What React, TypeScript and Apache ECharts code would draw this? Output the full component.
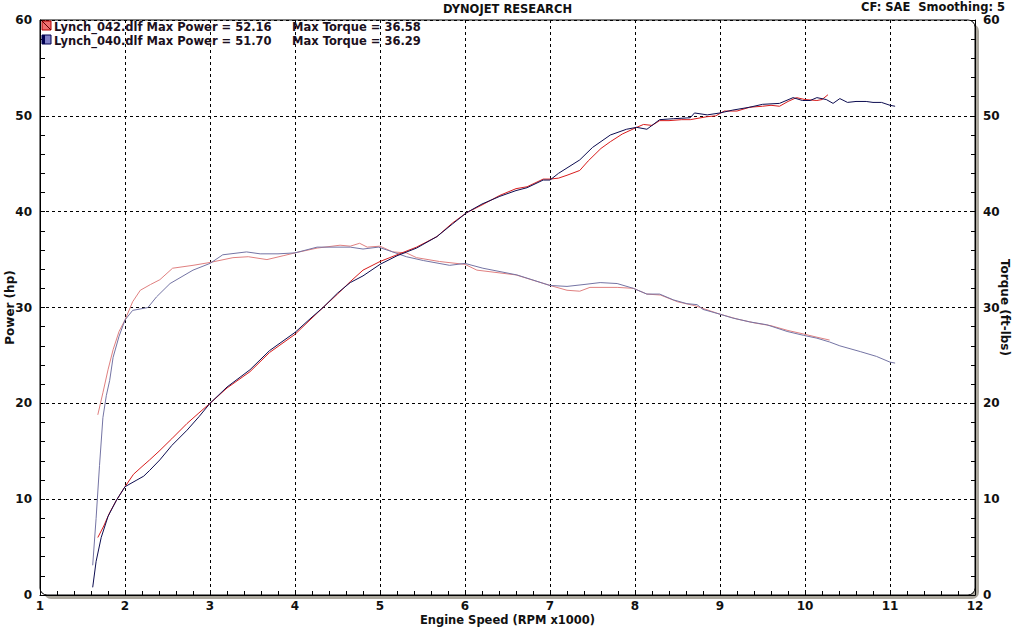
import React, { useEffect, useRef } from "react";
import * as echarts from "echarts";

// Run Lynch_042 (red)
const redPowerRpm = [1.68, 1.75, 1.82, 1.9, 2.0, 2.1, 2.2, 2.29, 2.4, 2.55, 2.73, 2.87, 3.0, 3.2, 3.47, 3.7, 4.0, 4.2, 4.33, 4.5, 4.65, 4.8, 5.0, 5.2, 5.43, 5.67, 5.85, 6.02, 6.2, 6.41, 6.6, 6.73, 6.92, 7.0, 7.1, 7.2, 7.35, 7.45, 7.6, 7.71, 7.85, 8.02, 8.1, 8.2, 8.29, 8.4, 8.55, 8.65, 8.84, 8.95, 9.05, 9.2, 9.35, 9.5, 9.6, 9.7, 9.8, 9.9, 10.0, 10.14, 10.2, 10.27];
const redPower = [6.0, 7.2, 8.6, 9.9, 11.3, 12.6, 13.4, 14.1, 15.0, 16.3, 17.9, 19.0, 20.0, 21.6, 23.3, 25.3, 27.2, 28.9, 30.0, 31.4, 32.7, 33.9, 34.8, 35.5, 36.3, 37.4, 38.8, 39.9, 40.7, 41.7, 42.4, 42.6, 43.4, 43.4, 43.5, 43.8, 44.3, 45.3, 46.6, 47.3, 48.1, 48.8, 49.1, 49.0, 49.5, 49.5, 49.6, 49.6, 49.9, 50.0, 50.5, 50.5, 50.9, 51.0, 51.1, 51.0, 51.5, 51.9, 51.7, 51.6, 51.7, 52.2];
const redTorqueRpm = [1.68, 1.74, 1.8, 1.86, 1.93, 2.0, 2.09, 2.18, 2.3, 2.41, 2.56, 2.8, 3.0, 3.27, 3.45, 3.67, 3.86, 4.0, 4.26, 4.53, 4.65, 4.76, 4.85, 5.0, 5.15, 5.31, 5.43, 5.7, 6.0, 6.14, 6.6, 7.0, 7.2, 7.35, 7.47, 7.79, 7.98, 8.14, 8.3, 8.5, 8.7, 8.8, 9.0, 9.2, 9.4, 9.6, 9.8, 10.0, 10.14, 10.29];
const redTorque = [18.8, 21.1, 23.5, 25.6, 27.5, 28.7, 30.6, 31.8, 32.4, 32.9, 34.1, 34.4, 34.7, 35.2, 35.3, 35.0, 35.4, 35.7, 36.2, 36.5, 36.4, 36.7, 36.3, 36.4, 35.8, 35.7, 35.2, 34.8, 34.5, 33.9, 33.4, 32.3, 31.8, 31.7, 32.1, 32.1, 32.0, 31.4, 31.3, 30.6, 30.2, 29.9, 29.3, 28.8, 28.4, 28.1, 27.6, 27.2, 26.9, 26.6];

// Run Lynch_040 (blue)
const bluePowerRpm = [1.62, 1.66, 1.72, 1.8, 1.9, 2.0, 2.14, 2.22, 2.29, 2.41, 2.55, 2.73, 2.87, 3.0, 3.2, 3.47, 3.7, 4.0, 4.2, 4.33, 4.5, 4.65, 4.8, 5.0, 5.2, 5.43, 5.67, 5.85, 6.02, 6.2, 6.41, 6.6, 6.73, 6.92, 7.0, 7.1, 7.35, 7.5, 7.71, 7.9, 8.02, 8.14, 8.29, 8.45, 8.65, 8.7, 8.85, 9.0, 9.15, 9.35, 9.5, 9.7, 9.86, 9.97, 10.06, 10.14, 10.25, 10.33, 10.41, 10.5, 10.6, 10.72, 10.8, 10.9, 11.0, 11.06];
const bluePower = [0.8, 3.5, 6.0, 8.2, 9.9, 11.3, 12.0, 12.4, 13.0, 14.1, 15.6, 17.2, 18.6, 20.0, 21.7, 23.5, 25.5, 27.4, 29.0, 30.0, 31.5, 32.6, 33.3, 34.5, 35.4, 36.2, 37.4, 38.7, 39.9, 40.8, 41.6, 42.2, 42.5, 43.3, 43.3, 44.0, 45.4, 46.7, 48.0, 48.6, 48.8, 48.6, 49.6, 49.7, 49.8, 50.3, 50.1, 50.3, 50.6, 50.9, 51.2, 51.3, 51.9, 51.6, 51.6, 51.9, 51.7, 51.3, 51.8, 51.4, 51.5, 51.5, 51.4, 51.4, 51.1, 51.0];
const blueTorqueRpm = [1.62, 1.66, 1.7, 1.74, 1.78, 1.82, 1.86, 1.93, 2.0, 2.09, 2.27, 2.37, 2.53, 2.8, 3.0, 3.15, 3.43, 3.59, 3.8, 4.0, 4.26, 4.65, 4.8, 4.98, 5.15, 5.31, 5.51, 5.82, 6.0, 6.21, 6.61, 7.0, 7.2, 7.4, 7.59, 7.79, 7.98, 8.14, 8.29, 8.45, 8.61, 8.73, 8.8, 9.0, 9.15, 9.35, 9.55, 9.79, 9.98, 10.14, 10.29, 10.41, 10.65, 10.84, 11.0, 11.06];
const blueTorque = [3.1, 8.0, 13.5, 18.5, 20.8, 22.4, 24.8, 27.0, 28.7, 29.7, 30.0, 31.1, 32.5, 33.9, 34.6, 35.5, 35.8, 35.6, 35.6, 35.7, 36.3, 36.3, 36.1, 36.3, 35.8, 35.3, 34.9, 34.4, 34.6, 34.1, 33.4, 32.3, 32.2, 32.4, 32.6, 32.5, 32.0, 31.4, 31.4, 30.8, 30.4, 30.3, 29.8, 29.3, 28.9, 28.5, 28.2, 27.5, 27.1, 26.8, 26.4, 26.0, 25.4, 24.9, 24.3, 24.2];

const legendRows = [
  { file: "Lynch_042.dlf", power: "52.16", torque: "36.58" },
  { file: "Lynch_040.dlf", power: "51.70", torque: "36.29" },
];

const zip = (xs: number[], ys: number[]) => xs.map((x, i) => [x, ys[i]]);

const FONT = "DejaVu Sans";
const GRID = { left: 40, top: 20, width: 935, height: 575 };

export default function App() {
  const ref = useRef<HTMLDivElement>(null);
  useEffect(() => {
    const chart = echarts.init(ref.current!, null, { renderer: "svg" });
    const labelStyle = { fontFamily: FONT, fontWeight: "bold" as const, fontSize: 12, color: "#111" };
    const splitLine = { show: true, lineStyle: { color: "#000", type: [3, 3] as any, width: 1 } };
    const option: any = {
      animation: false,
      backgroundColor: "#fff",
      grid: {
        left: GRID.left, top: GRID.top, width: GRID.width, height: GRID.height,
        show: false, containLabel: false, outerBoundsMode: "none",
      },
      xAxis: {
        type: "value",
        min: 1,
        max: 12,
        interval: 1,
        name: "Engine Speed (RPM x1000)",
        nameLocation: "middle",
        nameGap: 19,
        nameMoveOverlap: false,
        nameTextStyle: { ...labelStyle, fontSize: 11.5, lineHeight: 12 },
        axisLine: { show: true, lineStyle: { color: "#000", width: 1 } },
        axisTick: { show: true, inside: true, length: 4, lineStyle: { color: "#000" } },
        minorTick: { show: true, splitNumber: 5, length: 4, lineStyle: { color: "#000" } },
        axisLabel: { ...labelStyle, lineHeight: 12, margin: 5 },
        splitLine,
      },
      yAxis: [
        {
          type: "value",
          min: 0,
          max: 60,
          interval: 10,
          position: "left",
          name: "Power (hp)",
          nameLocation: "middle",
          nameGap: 24,
          nameMoveOverlap: false,
          nameTextStyle: labelStyle,
          axisLine: { show: true, lineStyle: { color: "#000", width: 1 } },
          axisTick: { show: true, inside: true, length: 5, lineStyle: { color: "#000" } },
          minorTick: { show: true, splitNumber: 5, length: 5, lineStyle: { color: "#000" } },
          axisLabel: { ...labelStyle, margin: 8 },
          splitLine,
        },
        {
          type: "value",
          min: 0,
          max: 60,
          interval: 10,
          position: "right",
          name: "Torque (ft-lbs)",
          nameLocation: "middle",
          nameRotate: -90,
          nameGap: 24,
          nameMoveOverlap: false,
          nameTextStyle: labelStyle,
          axisLine: { show: true, lineStyle: { color: "#000", width: 1 } },
          axisTick: { show: true, inside: true, length: 4, lineStyle: { color: "#000" } },
          minorTick: { show: true, splitNumber: 5, length: 4, lineStyle: { color: "#000" } },
          axisLabel: { ...labelStyle, margin: 8 },
          splitLine: { show: false },
        },
      ],
      series: [
        { type: "line", yAxisIndex: 1, data: zip(redTorqueRpm, redTorque), showSymbol: false, lineStyle: { color: "#e08080", width: 1 }, z: 3 },
        { type: "line", yAxisIndex: 1, data: zip(blueTorqueRpm, blueTorque), showSymbol: false, lineStyle: { color: "#7474a4", width: 1 }, z: 3 },
        { type: "line", yAxisIndex: 0, data: zip(redPowerRpm, redPower), showSymbol: false, lineStyle: { color: "#d81c1c", width: 1 }, z: 4 },
        { type: "line", yAxisIndex: 0, data: zip(bluePowerRpm, bluePower), showSymbol: false, lineStyle: { color: "#0c0c50", width: 1 }, z: 5 },
      ],
      graphic: [
        {
          type: "rect", z: -20, silent: true,
          shape: { x: GRID.left + 4, y: GRID.top + 4, width: GRID.width, height: GRID.height, r: 7 },
          style: { fill: "#aaa69c" },
        },
        {
          type: "rect", z: -10, silent: true,
          shape: { x: GRID.left, y: GRID.top, width: GRID.width, height: GRID.height, r: [0, 7, 7, 7] },
          style: { fill: "#fff", stroke: "#000", lineWidth: 1 },
        },
        {
          type: "text", left: "center", top: 3,
          style: { text: "DYNOJET RESEARCH", font: `bold 11.5px "${FONT}"`, fill: "#111" },
        },
        {
          type: "text", right: 10, top: 1,
          style: { text: "CF: SAE  Smoothing: 5", font: `bold 11.5px "${FONT}"`, fill: "#111" },
        },
        // legend swatches
        { type: "rect", z: 20, shape: { x: 42, y: 21, width: 9, height: 9 }, style: { fill: "#f07070", stroke: "#b00000", lineWidth: 1 } },
        { type: "line", z: 21, shape: { x1: 42, y1: 21, x2: 51, y2: 30 }, style: { stroke: "#600000", lineWidth: 1 } },
        { type: "rect", z: 20, shape: { x: 42, y: 35, width: 9, height: 9 }, style: { fill: "#8080c8", stroke: "#000050", lineWidth: 1 } },
        { type: "rect", z: 21, shape: { x: 42, y: 35, width: 3, height: 9 }, style: { fill: "#000050" } },
        ...legendRows.flatMap((r, i) => [
          {
            type: "text", z: 20, x: 54, y: 21 + i * 14,
            style: { text: `${r.file} Max Power = ${r.power}`, font: `bold 11.5px "${FONT}"`, fill: "#1c1020" },
          },
          {
            type: "text", z: 20, x: 292, y: 21 + i * 14,
            style: { text: `Max Torque = ${r.torque}`, font: `bold 11.5px "${FONT}"`, fill: "#1c1020" },
          },
        ]),
      ],
    };
    chart.setOption(option);
    return () => chart.dispose();
  }, []);
  return <div ref={ref} style={{ position: "absolute", left: 0, top: 0, width: 1015, height: 627 }} />;
}
